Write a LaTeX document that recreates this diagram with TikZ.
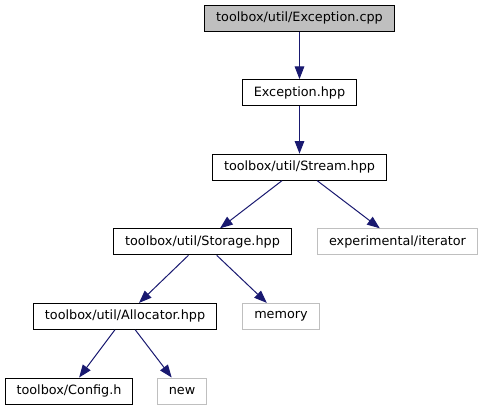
\documentclass[tikz,border=0pt]{standalone}
\usepackage{fontspec}
\setmainfont{DejaVu Sans}
\usetikzlibrary{arrows.meta}
\definecolor{cedge}{HTML}{191970}
\definecolor{cfill}{HTML}{BFBFBF}
\definecolor{cext}{HTML}{BFBFBF}

\begin{document}
\begin{tikzpicture}[x=0.75pt,y=-0.75pt,
  file/.style={draw=black,line width=0.75pt,minimum height=19.5pt,inner xsep=8.6pt,
    inner ysep=0pt,font=\fontsize{9.6}{11}\selectfont},
  ext/.style={file,draw=cext},
  dep/.style={-{Triangle[length=9.5pt,width=7.2pt]},cedge,line width=0.75pt}]
  \useasboundingbox (0,0) rectangle (483,411);
  \node[file,fill=cfill] (exccpp) at (299.5,18) {toolbox/util/Exception.cpp};
  \node[file] (exchpp) at (299.5,92.6) {Exception.hpp};
  \node[file] (stream) at (299.5,167.2) {toolbox/util/Stream.hpp};
  \node[file] (storage) at (202.5,241.8) {toolbox/util/Storage.hpp};
  \node[ext] (iter) at (397.5,241.8) {experimental/iterator};
  \node[file] (alloc) at (125,316.4) {toolbox/util/Allocator.hpp};
  \node[ext] (memory) at (281,316.4) {memory};
  \node[file] (config) at (69,391) {toolbox/Config.h};
  \node[ext] (new) at (182,391) {new};
  \draw[dep] (exccpp) -- (exchpp);
  \draw[dep] (exchpp) -- (stream);
  \draw[dep] (stream) -- (storage);
  \draw[dep] (stream) -- (iter);
  \draw[dep] (storage) -- (alloc);
  \draw[dep] (storage) -- (memory);
  \draw[dep] (alloc) -- (config);
  \draw[dep] (alloc) -- (new);
\end{tikzpicture}
\end{document}
